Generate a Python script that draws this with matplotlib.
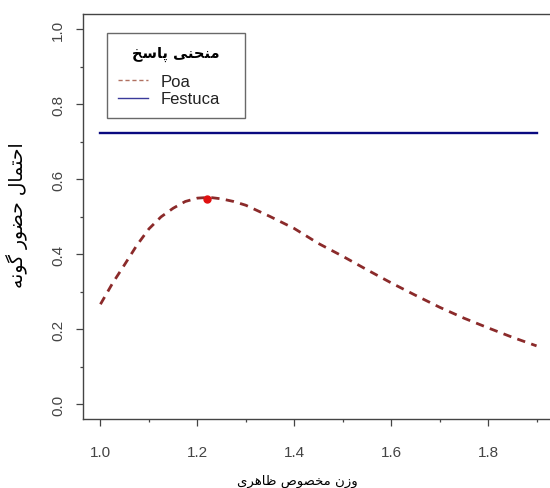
import matplotlib
matplotlib.use("Agg")
import matplotlib.pyplot as plt
from matplotlib.lines import Line2D
from matplotlib.ticker import MultipleLocator

plt.rcParams['font.family'] = ['Liberation Sans', 'DejaVu Sans']

# data
poa_x = [1.000, 1.025, 1.050, 1.075, 1.100, 1.125, 1.150, 1.175, 1.200, 1.225,
         1.250, 1.275, 1.300, 1.350, 1.400, 1.450, 1.500, 1.550, 1.600, 1.650,
         1.700, 1.750, 1.800, 1.850, 1.900]
poa_y = [0.266, 0.322, 0.372, 0.423, 0.467, 0.499, 0.522, 0.540, 0.549, 0.551,
         0.547, 0.540, 0.530, 0.500, 0.468, 0.428, 0.394, 0.358, 0.323, 0.290,
         0.258, 0.229, 0.203, 0.178, 0.155]
festuca_x = [1.0, 1.9]
festuca_y = [0.723, 0.723]
optimum_x = [1.22]
optimum_y = [0.548]
x_ticks = [1.0, 1.2, 1.4, 1.6, 1.8]
y_ticks = [0.0, 0.2, 0.4, 0.6, 0.8, 1.0]

x_label = "وزن مخصوص ظاهری"
y_label = "احتمال حضور گونه"
legend_title = "منحنی پاسخ"
series_names = ["Poa", "Festuca"]

# presentation forms: isolated, final, initial, medial (None = no left join)
FORMS = {
    'ا': (0xFE8D, 0xFE8E, None, None),
    'و': (0xFEED, 0xFEEE, None, None),
    'ر': (0xFEAD, 0xFEAE, None, None),
    'ز': (0xFEAF, 0xFEB0, None, None),
    'ح': (0xFEA1, 0xFEA2, 0xFEA3, 0xFEA4),
    'خ': (0xFEA5, 0xFEA6, 0xFEA7, 0xFEA8),
    'ت': (0xFE95, 0xFE96, 0xFE97, 0xFE98),
    'م': (0xFEE1, 0xFEE2, 0xFEE3, 0xFEE4),
    'ل': (0xFEDD, 0xFEDE, 0xFEDF, 0xFEE0),
    'ض': (0xFEBD, 0xFEBE, 0xFEBF, 0xFEC0),
    'ص': (0xFEB9, 0xFEBA, 0xFEBB, 0xFEBC),
    'ظ': (0xFEC5, 0xFEC6, 0xFEC7, 0xFEC8),
    'س': (0xFEB1, 0xFEB2, 0xFEB3, 0xFEB4),
    'ن': (0xFEE5, 0xFEE6, 0xFEE7, 0xFEE8),
    'ه': (0xFEE9, 0xFEEA, 0xFEEB, 0xFEEC),
    'گ': (0xFB92, 0xFB93, 0xFB94, 0xFB95),
    'پ': (0xFB56, 0xFB57, 0xFB58, 0xFB59),
    'ی': (0xFBFC, 0xFBFD, 0xFBFE, 0xFBFF),
}


def shape(text):
    # join the letters by hand and put them in visual (left-to-right) order
    out = []
    for i, ch in enumerate(text):
        if ch not in FORMS:
            out.append(ch)
            continue
        prev = text[i - 1] if i > 0 else ''
        nxt = text[i + 1] if i + 1 < len(text) else ''
        joins_prev = prev in FORMS and FORMS[prev][2] is not None
        joins_next = FORMS[ch][2] is not None and nxt in FORMS
        iso, fin, ini, med = FORMS[ch]
        if joins_prev and joins_next:
            code = med
        elif joins_prev:
            code = fin
        elif joins_next:
            code = ini
        else:
            code = iso
        out.append(chr(code))
    return ''.join(reversed(out))


fig = plt.figure(figsize=(5.5, 4.89), dpi=100)
# the plot box runs a little past the right edge, as in the reference
ax = fig.add_axes([83 / 550, 69 / 489, 471 / 550, 405 / 489])

poa_color = '#8b2a2a'
fest_color = '#0a0a80'
ax.plot(festuca_x, festuca_y, color=fest_color, lw=1.7)
ax.plot(poa_x, poa_y, color=poa_color, lw=2, linestyle=(0, (3.0, 2.3)))
ax.plot(optimum_x, optimum_y, 'o', color='#e01010', ms=5)

ax.set_xlim(0.964, 1.936)
ax.set_ylim(-0.04, 1.04)
ax.set_xticks(x_ticks)
ax.set_yticks(y_ticks)
ax.xaxis.set_minor_locator(MultipleLocator(0.1))
ax.yaxis.set_minor_locator(MultipleLocator(0.1))
ax.tick_params(which='major', length=5, width=0.9, color='#444444',
               labelsize=11, labelcolor='#444444')
ax.tick_params(which='minor', length=2.5, width=0.9, color='#444444')
ax.tick_params(axis='x', which='major', pad=14)
ax.tick_params(axis='y', which='major', pad=8, labelrotation=90)
for lab in ax.get_yticklabels():
    lab.set_va('center')
for sp in ax.spines.values():
    sp.set_color('#444444')
    sp.set_linewidth(1.0)

ax.set_xlabel(shape(x_label), fontsize=9.5, family='DejaVu Sans', va='center')
ax.xaxis.set_label_coords((297 - 83) / 471, -(481 - 420) / 405)
ax.set_ylabel(shape(y_label), fontsize=13.5, family='DejaVu Sans', va='center')
ax.yaxis.set_label_coords((17 - 83) / 471, (420 - 215) / 405)

handles = [
    Line2D([], [], color='#b07060', lw=1, linestyle=(0, (3, 2))),
    Line2D([], [], color='#3a3a9a', lw=1),
]
leg = ax.legend(handles, series_names, title=shape(legend_title),
                loc='upper left', mode='expand',
                bbox_to_anchor=(24 / 471, 0.748, 138 / 471, 0.205),
                borderaxespad=0, fancybox=False, frameon=True,
                fontsize=12, title_fontsize=10.5, handlelength=1.8,
                handletextpad=0.75, labelspacing=0.16, borderpad=0.68)
leg._legend_box.sep = 9.5  # extra room under the title
leg.get_frame().set_edgecolor('#444444')
leg.get_frame().set_linewidth(1.0)
leg.get_title().set_family('DejaVu Sans')
leg.get_title().set_fontweight('bold')
for t in leg.get_texts():
    t.set_color('#222222')

fig.savefig('out.png', dpi=100)
